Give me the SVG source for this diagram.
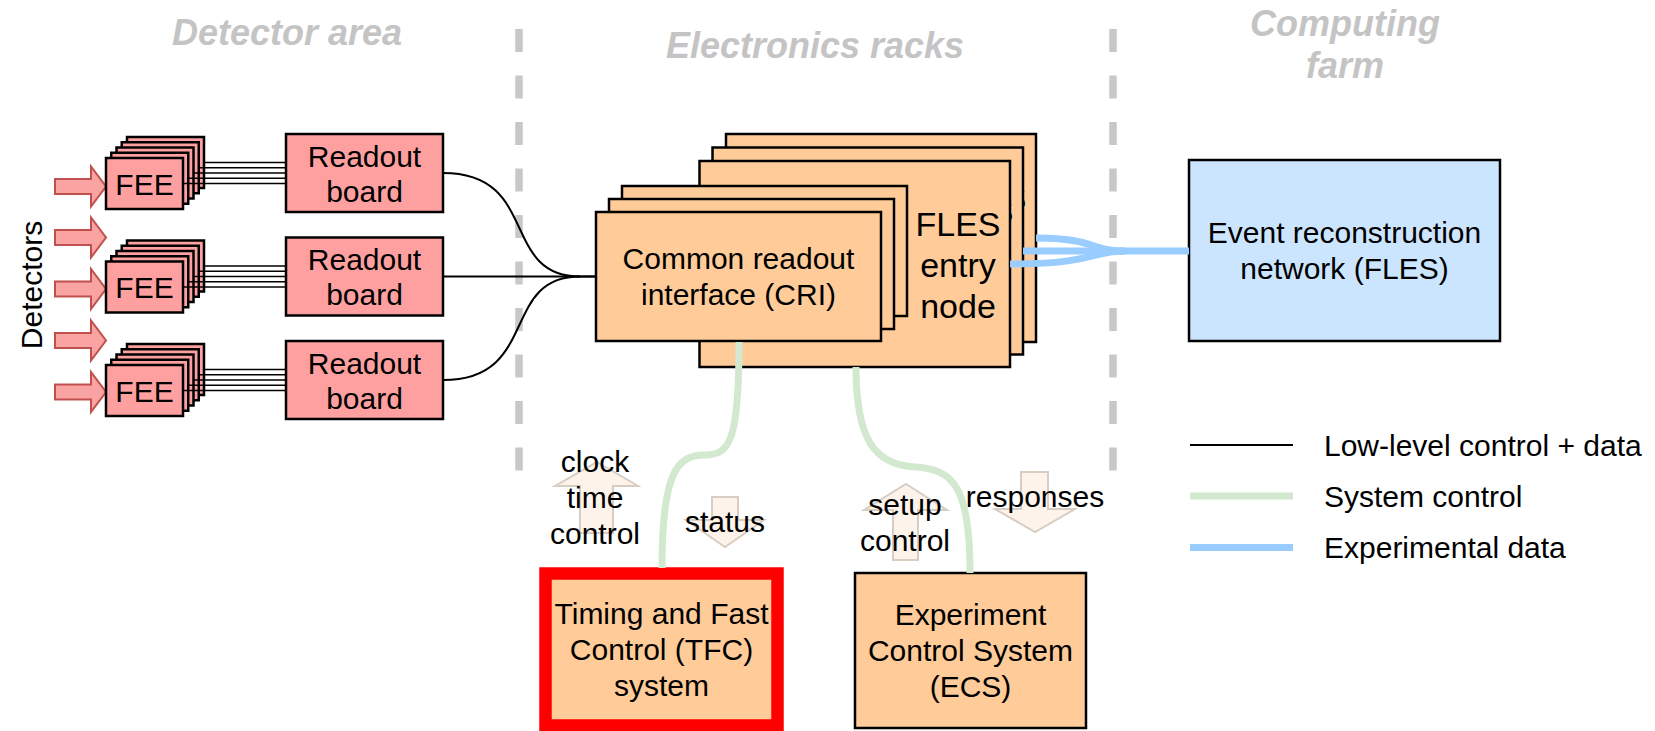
<svg xmlns="http://www.w3.org/2000/svg" width="1655" height="731" viewBox="0 0 1655 731">
<style>
text{font-family:"Liberation Sans",Arial,sans-serif;font-size:30px;fill:#000;text-anchor:middle}
.title{font-weight:bold;font-style:italic;font-size:36px;fill:#c4c4c4}
.left{text-anchor:start}
.pink{fill:#ffa0a0;stroke:#000;stroke-width:2.5}
.orange{fill:#ffcc99;stroke:#000;stroke-width:2.5}
.blue{fill:#cce5ff;stroke:#000;stroke-width:2.5}
.wire{fill:none;stroke:#000;stroke-width:2}
.ctl{fill:none;stroke:#d2e9cf;stroke-width:7}
.data{fill:none;stroke:#99ccff;stroke-width:7}
.sep{stroke:#c8c8c8;stroke-width:7.5;stroke-dasharray:23 23.5}
.det{fill:#f9a3a3;stroke:#c0504d;stroke-width:2}
.flow{fill:#fdf3ea;stroke:#d8cdc3;stroke-width:2}
.fles{font-size:34px}
</style>
<defs>
  <!-- five front-end boards stacked back to front -->
  <g id="feeStack">
    <rect class="pink" x="127" y="137" width="77" height="51"/>
    <rect class="pink" x="121.75" y="142.25" width="77" height="51"/>
    <rect class="pink" x="116.5" y="147.5" width="77" height="51"/>
    <rect class="pink" x="111.25" y="152.75" width="77" height="51"/>
    <rect class="pink" x="106" y="158" width="77" height="51"/>
    <text x="144.5" y="194.5">FEE</text>
  </g>
  <g id="feeLinks">
    <path class="wire" style="stroke-width:1.6" d="M183,183.5H286M188.25,178.25H286M193.5,173H286M198.75,167.75H286M204,162.5H286"/>
  </g>
  <polygon id="detArrow" class="det" points="55,-7.5 91,-7.5 91,-20 106,0 91,20 91,7.5 55,7.5"/>
</defs>

<!-- area headings and separators -->
<g id="areas">
  <text class="title" x="287" y="45">Detector area</text>
  <text class="title" x="815" y="58">Electronics racks</text>
  <text class="title" x="1345" y="36">Computing</text>
  <text class="title" x="1345" y="78">farm</text>
  <line class="sep" x1="519" y1="29" x2="519" y2="471"/>
  <line class="sep" x1="1113" y1="29" x2="1113" y2="471"/>
</g>

<!-- detector inputs -->
<g id="detectors">
  <text transform="translate(42,285) rotate(-90)">Detectors</text>
  <use href="#detArrow" y="186.5"/>
  <use href="#detArrow" y="237.5"/>
  <use href="#detArrow" y="289"/>
  <use href="#detArrow" y="340.5"/>
  <use href="#detArrow" y="392"/>
</g>

<g id="fee-1"><use href="#feeStack"/></g>
<g id="fee-2"><use href="#feeStack" y="103.5"/></g>
<g id="fee-3"><use href="#feeStack" y="207"/></g>

<g id="readout-1">
  <rect class="pink" x="286" y="134" width="157" height="78"/>
  <text x="364.5" y="166.5">Readout</text>
  <text x="364.5" y="201.5">board</text>
</g>
<g id="readout-2">
  <rect class="pink" x="286" y="237.5" width="157" height="78"/>
  <text x="364.5" y="270">Readout</text>
  <text x="364.5" y="305">board</text>
</g>
<g id="readout-3">
  <rect class="pink" x="286" y="341" width="157" height="78"/>
  <text x="364.5" y="373.5">Readout</text>
  <text x="364.5" y="408.5">board</text>
</g>

<!-- FLES entry nodes, back to front -->
<g id="fles-entry">
  <rect class="orange" x="726" y="134" width="310" height="208"/>
  <text class="fles" x="984" y="210">FLES</text>
  <text class="fles" x="984" y="251">entry</text>
  <text class="fles" x="984" y="292">node</text>
  <rect class="orange" x="712.5" y="147.5" width="310.5" height="207"/>
  <text class="fles" x="971" y="223">FLES</text>
  <text class="fles" x="971" y="264">entry</text>
  <text class="fles" x="971" y="305">node</text>
  <rect class="orange" x="699.5" y="161" width="310.5" height="206"/>
  <text class="fles" x="958" y="236">FLES</text>
  <text class="fles" x="958" y="277">entry</text>
  <text class="fles" x="958" y="318">node</text>
</g>

<!-- common readout interfaces, back to front -->
<g id="cri">
  <rect class="orange" x="622" y="186" width="285" height="130"/>
  <rect class="orange" x="609" y="199" width="285" height="130"/>
  <rect class="orange" x="596" y="212" width="285" height="129"/>
  <text x="738.5" y="269">Common readout</text>
  <text x="738.5" y="305">interface (CRI)</text>
</g>

<g id="event-reconstruction">
  <rect class="blue" x="1189" y="160" width="311" height="181"/>
  <text x="1344.5" y="243">Event reconstruction</text>
  <text x="1344.5" y="279">network (FLES)</text>
</g>

<g id="tfc">
  <rect x="545.5" y="573.5" width="232" height="152" fill="#ffcc99" stroke="#ff0000" stroke-width="12.5"/>
  <text x="661.5" y="624">Timing and Fast</text>
  <text x="661.5" y="660">Control (TFC)</text>
  <text x="661.5" y="696">system</text>
</g>

<g id="ecs">
  <rect class="orange" x="855" y="573" width="231" height="155"/>
  <text x="970.5" y="625">Experiment</text>
  <text x="970.5" y="661">Control System</text>
  <text x="970.5" y="697">(ECS)</text>
</g>

<!-- signal direction hints -->
<g id="flow-hints">
  <polygon class="flow" points="597,462 638,486 613,486 613,533 580,533 580,486 555,486"/>
  <polygon class="flow" points="712,497 738,497 738,520 764,520 725,547 686,520 712,520"/>
  <polygon class="flow" points="906,484 947,510 918,510 918,560 893,560 893,510 864,510"/>
  <polygon class="flow" points="1021,472 1048,472 1048,509 1075,509 1035,532 995,509 1021,509"/>
  <text x="595" y="472">clock</text>
  <text x="595" y="508">time</text>
  <text x="595" y="544">control</text>
  <text x="725" y="532">status</text>
  <text x="905" y="515">setup</text>
  <text x="905" y="551">control</text>
  <text x="1035" y="507">responses</text>
</g>

<g id="connectors">
  <use href="#feeLinks"/>
  <use href="#feeLinks" y="103.5"/>
  <use href="#feeLinks" y="207"/>
  <path class="wire" d="M443,173C540,173 500,276.5 580,276.5H596"/>
  <path class="wire" d="M443,276.5H596"/>
  <path class="wire" d="M443,380C540,380 500,276.5 580,276.5"/>
  <path class="data" d="M1036,238C1095,238 1090,251 1125,251"/>
  <path class="data" d="M1023,251H1189"/>
  <path class="data" d="M1010,264C1095,264 1090,251 1125,251"/>
  <path class="ctl" d="M739,342C739,440 730,455 705,455C678,455 662,470 662,568"/>
  <path class="ctl" d="M856,367C856,440 875,465 915,467C955,469 970,490 970,573"/>
</g>

<g id="legend">
  <line x1="1190" y1="445" x2="1293" y2="445" stroke="#000" stroke-width="2"/>
  <line class="ctl" x1="1190" y1="496" x2="1293" y2="496"/>
  <line class="data" x1="1190" y1="547.5" x2="1293" y2="547.5"/>
  <text class="left" x="1324" y="456">Low-level control + data</text>
  <text class="left" x="1324" y="507">System control</text>
  <text class="left" x="1324" y="558">Experimental data</text>
</g>
</svg>
